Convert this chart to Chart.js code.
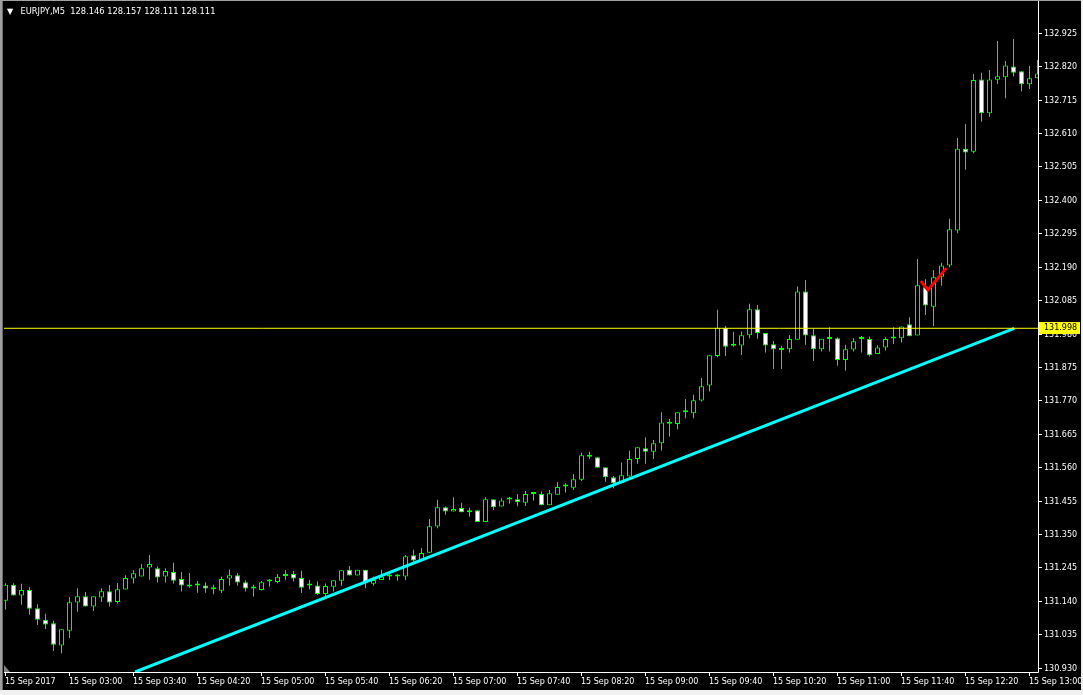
<!DOCTYPE html>
<html>
<head>
<meta charset="utf-8">
<title>EURJPY,M5</title>
<script src="https://cdn.jsdelivr.net/npm/chart.js@4.4.0/dist/chart.umd.min.js"></script>
<style>
  html, body { margin: 0; padding: 0; background: #000; overflow: hidden; }
  #wrap { position: relative; width: 1083px; height: 695px; }
</style>
</head>
<body>
<div id="wrap"><canvas id="chart" width="1083" height="695"></canvas></div>
<script>
// --- DATA: EURJPY M5, 15 Sep 2017, one candle every 5 minutes from 02:20 ---
const opens = [
  131.142, 131.192, 131.158, 131.176, 131.118, 131.082, 131.071, 131.001, 131.048, 131.136,
  131.156, 131.124, 131.152, 131.172, 131.138, 131.177, 131.212, 131.218, 131.246, 131.244,
  131.218, 131.232, 131.210, 131.191, 131.190, 131.190, 131.178, 131.173, 131.212, 131.222,
  131.200, 131.180, 131.176, 131.202, 131.201, 131.220, 131.226, 131.213, 131.190, 131.190,
  131.163, 131.186, 131.205, 131.239, 131.221, 131.239, 131.195, 131.207, 131.218, 131.218,
  131.218, 131.285, 131.270, 131.293, 131.375, 131.436, 131.422, 131.433, 131.420, 131.426,
  131.389, 131.461, 131.438, 131.460, 131.461, 131.450, 131.477, 131.477, 131.442, 131.475,
  131.501, 131.497, 131.522, 131.594, 131.593, 131.561, 131.530, 131.511, 131.532, 131.587,
  131.621, 131.610, 131.637, 131.698, 131.697, 131.734, 131.731, 131.771, 131.818, 131.911,
  132.000, 131.943, 131.944, 131.976, 132.058, 131.983, 131.948, 131.930, 131.932, 131.962,
  132.114, 131.976, 131.932, 131.964, 131.967, 131.898, 131.931, 131.964, 131.964, 131.917,
  131.938, 131.966, 131.967, 132.011, 131.975, 132.127, 132.066, 132.160, 132.195, 132.305,
  132.562, 132.553, 132.780, 132.674, 132.779, 132.787, 132.821, 132.806, 132.765, 132.784
];
const highs = [
  131.197, 131.197, 131.195, 131.184, 131.131, 131.101, 131.079, 131.052, 131.154, 131.181,
  131.169, 131.156, 131.181, 131.191, 131.198, 131.222, 131.238, 131.257, 131.286, 131.250,
  131.244, 131.261, 131.232, 131.229, 131.204, 131.200, 131.192, 131.217, 131.239, 131.229,
  131.206, 131.192, 131.204, 131.210, 131.226, 131.238, 131.235, 131.236, 131.207, 131.202,
  131.196, 131.206, 131.238, 131.251, 131.239, 131.239, 131.218, 131.239, 131.230, 131.225,
  131.286, 131.302, 131.308, 131.399, 131.459, 131.438, 131.467, 131.450, 131.434, 131.426,
  131.467, 131.461, 131.464, 131.468, 131.477, 131.487, 131.480, 131.485, 131.490, 131.515,
  131.511, 131.540, 131.607, 131.610, 131.593, 131.561, 131.534, 131.576, 131.614, 131.624,
  131.655, 131.647, 131.734, 131.713, 131.734, 131.776, 131.789, 131.842, 131.913, 132.056,
  132.005, 131.987, 131.988, 132.075, 132.071, 131.983, 131.958, 131.943, 131.977, 132.129,
  132.150, 131.997, 131.965, 132.001, 131.970, 131.946, 131.967, 131.974, 131.972, 131.945,
  131.970, 132.001, 132.004, 132.033, 132.216, 132.152, 132.181, 132.204, 132.342, 132.596,
  132.640, 132.797, 132.801, 132.810, 132.901, 132.838, 132.907, 132.806, 132.822, 132.841
];
const lows = [
  131.114, 131.158, 131.129, 131.098, 131.066, 131.053, 130.984, 130.976, 131.025, 131.107,
  131.124, 131.110, 131.138, 131.124, 131.133, 131.177, 131.196, 131.218, 131.208, 131.199,
  131.199, 131.196, 131.171, 131.183, 131.167, 131.167, 131.162, 131.166, 131.189, 131.189,
  131.171, 131.155, 131.174, 131.186, 131.197, 131.207, 131.202, 131.166, 131.178, 131.160,
  131.157, 131.171, 131.189, 131.221, 131.221, 131.181, 131.189, 131.207, 131.207, 131.205,
  131.207, 131.265, 131.265, 131.293, 131.370, 131.412, 131.422, 131.420, 131.406, 131.389,
  131.389, 131.427, 131.438, 131.447, 131.439, 131.440, 131.457, 131.442, 131.442, 131.475,
  131.482, 131.490, 131.518, 131.587, 131.560, 131.516, 131.495, 131.511, 131.532, 131.572,
  131.572, 131.587, 131.614, 131.658, 131.681, 131.715, 131.715, 131.768, 131.799, 131.907,
  131.911, 131.940, 131.914, 131.967, 131.965, 131.922, 131.870, 131.870, 131.922, 131.962,
  131.946, 131.895, 131.925, 131.925, 131.880, 131.865, 131.925, 131.922, 131.909, 131.917,
  131.928, 131.949, 131.953, 131.973, 131.975, 132.040, 132.005, 132.132, 132.190, 132.297,
  132.496, 132.548, 132.647, 132.663, 132.766, 132.721, 132.789, 132.742, 132.750, 132.784
];
const closes = [
  131.192, 131.158, 131.176, 131.117, 131.082, 131.067, 131.004, 131.052, 131.137, 131.156,
  131.124, 131.156, 131.172, 131.136, 131.178, 131.213, 131.228, 131.244, 131.257, 131.215,
  131.235, 131.205, 131.190, 131.187, 131.190, 131.180, 131.178, 131.210, 131.222, 131.199,
  131.180, 131.180, 131.200, 131.202, 131.217, 131.225, 131.212, 131.183, 131.190, 131.163,
  131.188, 131.206, 131.238, 131.221, 131.239, 131.200, 131.207, 131.217, 131.218, 131.218,
  131.282, 131.268, 131.292, 131.376, 131.436, 131.422, 131.430, 131.420, 131.426, 131.389,
  131.461, 131.436, 131.457, 131.460, 131.452, 131.477, 131.477, 131.442, 131.480, 131.499,
  131.501, 131.524, 131.599, 131.596, 131.560, 131.530, 131.511, 131.536, 131.587, 131.624,
  131.610, 131.637, 131.702, 131.698, 131.734, 131.734, 131.772, 131.816, 131.913, 132.000,
  131.940, 131.943, 131.976, 132.058, 131.983, 131.944, 131.932, 131.935, 131.964, 132.114,
  131.975, 131.932, 131.965, 131.964, 131.898, 131.932, 131.957, 131.964, 131.913, 131.938,
  131.964, 131.966, 132.004, 131.973, 132.133, 132.070, 132.158, 132.195, 132.309, 132.562,
  132.550, 132.778, 132.674, 132.780, 132.790, 132.824, 132.801, 132.765, 132.784, 132.799
];

const priceTicks = [
  132.925, 132.820, 132.715, 132.610, 132.505, 132.400, 132.295, 132.190, 132.085, 131.980,
  131.875, 131.770, 131.665, 131.560, 131.455, 131.350, 131.245, 131.140, 131.035, 130.930
];
const timeLabels = [
  '15 Sep 2017', '15 Sep 03:00', '15 Sep 03:40', '15 Sep 04:20', '15 Sep 05:00', '15 Sep 05:40',
  '15 Sep 06:20', '15 Sep 07:00', '15 Sep 07:40', '15 Sep 08:20', '15 Sep 09:00', '15 Sep 09:40',
  '15 Sep 10:20', '15 Sep 11:00', '15 Sep 11:40', '15 Sep 12:20', '15 Sep 13:00'
];
const barsPerLabel = 8;

// objects drawn on the chart
const levelPrice = 131.998;
const trendBars = [16.2, 126.1];
const trendPrices = [130.918, 131.998];
const checkBars = [114.5, 115.3, 117.5];
const checkPrices = [132.144, 132.118, 132.184];

const headerText = 'EURJPY,M5  128.146 128.157 128.111 128.111';

// visible window
const viewMin = -0.1875, viewMax = 129.0625;
const priceMin = 130.918, priceMax = 133.017;

// --- build datasets ---
const LIME = '#00ff00';
const wickData = closes.map((c, i) => ({ x: i, y: [lows[i], highs[i]] }));
const bodyData = closes.map((c, i) => ({ x: i, y: [opens[i], c] }));

const font = '8px "DejaVu Sans"';

const mtChrome = {
    id: 'mtChrome',
    beforeDraw(chart) {
        const c = chart.ctx;
        c.save();
        c.fillStyle = '#000';
        c.fillRect(0, 0, chart.width, chart.height);
        c.restore();
    },
    afterDatasetsDraw(chart) {
        const c = chart.ctx;
        const a = chart.chartArea;
        const xs = chart.scales.x, ys = chart.scales.y;
        c.save();

        // frame on right and bottom
        c.strokeStyle = '#ffffff';
        c.lineWidth = 1;
        c.beginPath();
        c.moveTo(a.right + 0.5, 0);
        c.lineTo(a.right + 0.5, a.bottom + 0.5);
        c.lineTo(a.left, a.bottom + 0.5);
        c.stroke();

        c.font = font;
        c.textBaseline = 'middle';
        c.textAlign = 'left';
        c.fillStyle = '#ffffff';

        // price axis
        priceTicks.forEach(p => {
            const py = Math.floor(ys.getPixelForValue(p)) + 0.5;
            c.beginPath();
            c.moveTo(a.right, py);
            c.lineTo(a.right + 4, py);
            c.stroke();
            c.fillText(p.toFixed(3), a.right + 6, py);
        });

        // horizontal line price label
        const ly = ys.getPixelForValue(levelPrice);
        c.fillStyle = '#ffff00';
        c.fillRect(a.right + 1, Math.round(ly) - 6, 41, 12);
        c.fillStyle = '#000000';
        c.fillText(levelPrice.toFixed(3), a.right + 6, ly);

        // time axis
        c.fillStyle = '#ffffff';
        timeLabels.forEach((t, i) => {
            const px = Math.floor(xs.getPixelForValue(i * barsPerLabel)) + 0.5;
            c.beginPath();
            c.moveTo(px, a.bottom + 1);
            c.lineTo(px, a.bottom + 4);
            c.stroke();
            c.fillText(t, px - 0.5, a.bottom + 10);
        });

        // chart shift marker
        c.fillStyle = '#808080';
        c.beginPath();
        c.moveTo(a.left, a.bottom - 7);
        c.lineTo(a.left, a.bottom);
        c.lineTo(a.left + 6, a.bottom);
        c.closePath();
        c.fill();

        // header
        c.fillStyle = '#ffffff';
        c.fillText('\u25BC', 7, 12);
        c.font = '8.3px "DejaVu Sans"';
        c.fillText(headerText, 20.5, 12);

        // window edges
        c.fillStyle = '#a0a0a0';
        c.fillRect(0, 0, chart.width, 1);
        c.fillRect(0, 0, 2, 690);
        c.fillStyle = '#696969';
        c.fillRect(2, 1, 1, 689);
        c.fillStyle = '#f0f0f0';
        c.fillRect(0, 690, chart.width, 5);
        c.fillRect(1081, 0, 2, 690);
        c.restore();
    }
};

new Chart(document.getElementById('chart'), {
    type: 'bar',
    data: {
        datasets: [
            {
                type: 'line',
                label: 'level',
                data: [{ x: viewMin, y: levelPrice }, { x: viewMax, y: levelPrice }],
                borderColor: '#ffff00',
                borderWidth: 1,
                pointRadius: 0,
                order: 0
            },
            {
                type: 'line',
                label: 'trend',
                data: trendBars.map((b, i) => ({ x: b, y: trendPrices[i] })),
                borderColor: '#00ffff',
                borderWidth: 3,
                pointRadius: 0,
                order: 0
            },
            {
                type: 'line',
                label: 'check',
                data: checkBars.map((b, i) => ({ x: b, y: checkPrices[i] })),
                borderColor: '#ff0000',
                borderWidth: 3,
                borderJoinStyle: 'round',
                borderCapStyle: 'round',
                pointRadius: 0,
                order: 0
            },
            {
                label: 'body',
                data: bodyData,
                grouped: false,
                barThickness: 5,
                minBarLength: 2,
                borderWidth: 1,
                borderSkipped: false,
                inflateAmount: 0,
                borderColor: LIME,
                backgroundColor: ctx => {
                    const i = ctx.dataIndex;
                    if (closes[i] < opens[i]) return '#ffffff';
                    if (closes[i] > opens[i]) return '#000000';
                    return LIME;
                },
                order: 1
            },
            {
                label: 'wick',
                data: wickData,
                grouped: false,
                barThickness: 1,
                borderWidth: 0,
                inflateAmount: 0,
                backgroundColor: LIME,
                order: 2
            }
        ]
    },
    options: {
        responsive: false,
        animation: false,
        devicePixelRatio: 1,
        layout: { padding: { left: 4, top: 4, right: 45, bottom: 23 } },
        plugins: { legend: { display: false }, tooltip: { enabled: false } },
        scales: {
            x: { type: 'linear', min: viewMin, max: viewMax, offset: false, display: false },
            y: { type: 'linear', min: priceMin, max: priceMax, display: false }
        }
    },
    plugins: [mtChrome]
});
</script>
</body>
</html>
